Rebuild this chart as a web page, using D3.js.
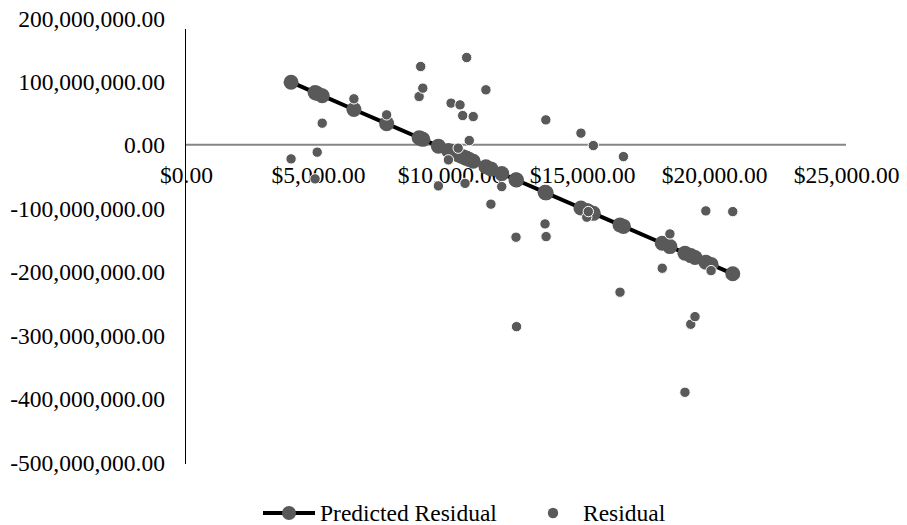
<!DOCTYPE html>
<html><head><meta charset="utf-8">
<script src="https://cdn.jsdelivr.net/npm/d3@7"></script>
<style>body{margin:0;background:#fff} text{font-family:"Liberation Serif","Times New Roman",serif;fill:#000}</style>
</head><body><svg id="c" width="907" height="525"></svg>
<script>
const xTicks=[0,5000,10000,15000,20000,25000];
const yTicks=[200e6,100e6,0,-100e6,-200e6,-300e6,-400e6,-500e6];
const price=[3980,4890,4970,5160,6360,7600,8830,8890,8970,9560,9940,10040,10310,10380,10480,10570,10630,10730,10880,11360,11550,11960,12520,12500,13600,13640,13630,14960,15180,15240,15430,16440,16570,18040,18330,18900,19120,19280,19690,19890,20710];
const residualM=[-22.1,-53.6,-11.5,34.2,72.6,47.3,76.2,123.5,89.4,-64.7,-23.7,65.8,-5.2,63.1,46.2,-60.7,137.7,6.8,44.6,86.8,-93.5,-65.8,-286.6,-145.6,-124.6,-144.6,39.4,18.5,-114.0,-105.2,-1.1,-232.3,-18.5,-194.5,-140.4,-390.1,-282.8,-270.8,-104.1,-198.3,-105.2];
const predictedM=[98.8,82.4,80.9,77.5,55.8,33.4,11.2,10.1,8.7,-2.0,-8.8,-10.6,-15.5,-16.8,-18.6,-20.2,-21.3,-23.1,-25.8,-34.5,-37.9,-45.3,-55.4,-55.1,-74.9,-75.7,-75.5,-99.5,-103.5,-104.6,-108.0,-126.2,-128.6,-155.1,-160.4,-170.7,-174.6,-177.5,-184.9,-188.5,-203.3];
const seriesNames=["Predicted Residual","Residual"];

const svg=d3.select("#c");
const fs=23.5;
const x=d3.scaleLinear().domain([0,25000]).range([186,846]);
const y=d3.scaleLinear().domain([-500e6,200e6]).range([462,18]);
const loc=d3.formatLocale({decimal:".",thousands:",",grouping:[3],currency:["$",""],minus:"-"});
const fy=loc.format(",.2f"), fx=loc.format("$,.2f");

// x axis line at y=0
svg.append("line").attr("x1",x(0)).attr("x2",x(25000)).attr("y1",y(0)).attr("y2",y(0))
  .attr("stroke","#868686").attr("stroke-width",2);
// y axis
const ya=svg.append("g").attr("transform",`translate(${x(0)},0)`)
  .call(d3.axisLeft(y).tickValues(yTicks).tickSize(0).tickPadding(21).tickFormat(fy));
ya.select(".domain").remove();
ya.selectAll("text").style("font-size",fs+"px").attr("font-family","Liberation Serif").attr("fill","#000").attr("dy","0.34em");
svg.append("line").attr("x1",x(0)-0.5).attr("x2",x(0)-0.5).attr("y1",29).attr("y2",464).attr("stroke","#000").attr("stroke-width",1);
// x axis labels
const xa=svg.append("g").attr("transform",`translate(0,${y(0)})`)
  .call(d3.axisBottom(x).tickValues(xTicks).tickSize(0).tickPadding(0).tickFormat(fx));
xa.select(".domain").remove();
xa.selectAll("text").style("font-size",fs+"px").attr("font-family","Liberation Serif").attr("fill","#000").attr("dy",null).attr("y",38);

const pts=price.map((p,i)=>({p,r:residualM[i]*1e6,q:predictedM[i]*1e6}));
const sorted=pts.slice().sort((a,b)=>a.p-b.p);
svg.append("path").datum(sorted).attr("fill","none").attr("stroke","#000").attr("stroke-width",4)
  .attr("d",d3.line().x(d=>x(d.p)).y(d=>y(d.q)));
svg.append("g").selectAll("circle").data(pts).join("circle")
  .attr("cx",d=>x(d.p)).attr("cy",d=>y(d.q)).attr("r",7.5).attr("fill","#595959");
svg.append("g").selectAll("circle").data(pts).join("circle")
  .attr("cx",d=>x(d.p)).attr("cy",d=>y(d.r)).attr("r",5.2).attr("fill","#595959").attr("stroke","#fff").attr("stroke-width",1);

// legend
const lg=svg.append("g");
lg.append("line").attr("x1",263).attr("x2",315).attr("y1",513).attr("y2",513).attr("stroke","#000").attr("stroke-width",4);
lg.append("circle").attr("cx",289).attr("cy",513).attr("r",7).attr("fill","#595959");
lg.append("text").attr("x",320).attr("y",521).style("font-size",fs+"px").text(seriesNames[0]);
lg.append("circle").attr("cx",553).attr("cy",513).attr("r",5.2).attr("fill","#595959");
lg.append("text").attr("x",583).attr("y",521).style("font-size",fs+"px").text(seriesNames[1]);
</script></body></html>
